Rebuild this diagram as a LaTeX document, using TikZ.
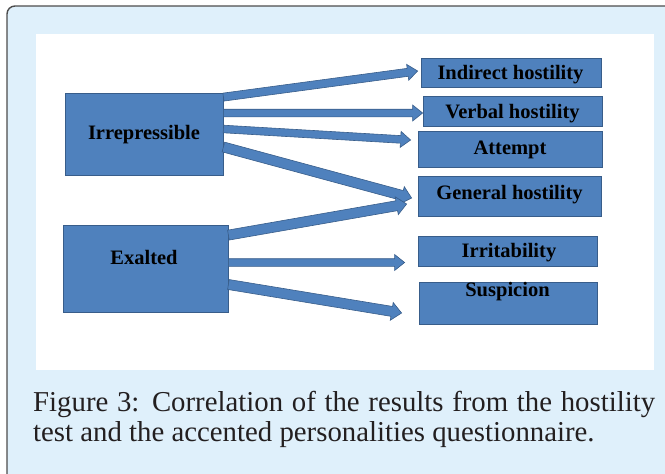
\documentclass[tikz,border=0pt]{standalone}
\usepackage{fontspec}
\setmainfont{Liberation Serif}
\usetikzlibrary{calc}
\definecolor{frameblue}{HTML}{DFF0FB}
\definecolor{boxfill}{HTML}{4F81BD}
\definecolor{boxline}{HTML}{385D8A}
\definecolor{frameline}{HTML}{4D4D4D}
\definecolor{captext}{HTML}{231F20}
% #1 start coordinate, #2 tip coordinate, #3 half shaft width, #4 half head width
\newcommand{\blockarrow}[4]{%
  \coordinate (#2h) at ($(#2)!10pt!(#1)$);
  \draw[barrow] ($(#1)!#3!90:(#2)$) -- ($(#2h)!#3!90:(#2)$) -- ($(#2h)!#4!90:(#2)$)
    -- (#2) -- ($(#2h)!#4!-90:(#2)$) -- ($(#2h)!#3!-90:(#2)$) -- ($(#1)!#3!-90:(#2)$) -- cycle;}
\begin{document}
\begin{tikzpicture}[x=1pt,y=-1pt,
  box/.style={draw=boxline, fill=boxfill, line width=0.8pt, rectangle, inner sep=0pt},
  lbl/.style={font=\fontsize{20.5}{22}\selectfont\bfseries, anchor=base, inner sep=0pt, text=black},
  barrow/.style={draw=boxline, fill=boxfill, line width=0.6pt, line join=miter}]
\useasboundingbox (0,0) rectangle (665,474);
\clip (0,0) rectangle (665,474);
\draw[fill=frameblue, draw=frameline, line width=1.4pt, rounded corners=8pt] (7,6) rectangle (720,530);
\fill[white] (36,34) rectangle (654,370);
% boxes
\node[box, minimum width=158pt, minimum height=82pt] (irr) at (144,134) {};
\node[box, minimum width=165pt, minimum height=87pt] (ex) at (145.5,268.5) {};
\node[box, minimum width=180pt, minimum height=29pt] (ind) at (511,72.5) {};
\node[box, minimum width=179pt, minimum height=30pt] (ver) at (512.5,111) {};
\node[box, minimum width=184pt, minimum height=36pt] (att) at (510,149) {};
\node[box, minimum width=183pt, minimum height=40pt] (gen) at (509.5,196) {};
\node[box, minimum width=179pt, minimum height=30pt] (irt) at (507.5,251) {};
\node[box, minimum width=178pt, minimum height=42pt] (sus) at (508,303) {};
% labels
\node[lbl] (irrt) at (144,139) {Irrepressible};
\node[lbl] (ext) at (144,264) {Exalted};
\node[lbl] (indt) at (510.5,79) {Indirect hostility};
\node[lbl] (vert) at (512.5,118) {Verbal hostility};
\node[lbl] (attt) at (510,154) {Attempt};
\node[lbl] (gent) at (509.5,199) {General hostility};
\node[lbl] (irtt) at (509,257) {Irritability};
\node[lbl] (sust) at (507.5,296) {Suspicion};
% arrow ends
\coordinate (a1s) at ($(irr.north east)+(0,4.5)$);
\coordinate (a1e) at ($(ind.west)+(-3,-1.5)$);
\coordinate (a2s) at ($(irr.east)+(0,-21)$);
\coordinate (a2e) at ($(ver.west)+(0,2)$);
\coordinate (a3s) at ($(irr.east)+(0,-5)$);
\coordinate (a3e) at ($(att.west)+(-7,-9)$);
\coordinate (a4s) at ($(irr.east)+(0,13)$);
\coordinate (a4e) at ($(gen.west)+(-6,2)$);
\coordinate (a5s) at ($(ex.north east)+(0,10.5)$);
\coordinate (a5e) at ($(gen.west)+(-11,8)$);
\coordinate (a6s) at ($(ex.east)+(0,-6)$);
\coordinate (a6e) at ($(irt.west)+(-13,11.5)$);
\coordinate (a7s) at ($(ex.east)+(0,16)$);
\coordinate (a7e) at ($(sus.west)+(-17,10)$);
\blockarrow{a4s}{a4e}{5pt}{9pt}
\blockarrow{a5s}{a5e}{5pt}{9pt}
\blockarrow{a1s}{a1e}{4pt}{8pt}
\blockarrow{a2s}{a2e}{3.8pt}{8pt}
\blockarrow{a3s}{a3e}{3.8pt}{8pt}
\blockarrow{a6s}{a6e}{3.8pt}{8pt}
\blockarrow{a7s}{a7e}{5pt}{9pt}
% caption
\node[anchor=base west, text width=622pt, align=justify, inner sep=0pt,
  font=\fontsize{28.8}{30}\selectfont, text=captext] (cap) at (33,411)
  {Figure 3: Correlation of the results from the hostility\linebreak test and the accented personalities questionnaire.};
\end{tikzpicture}
\end{document}
